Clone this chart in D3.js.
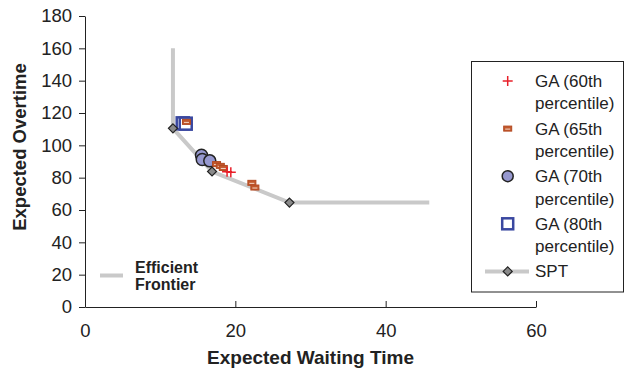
<!DOCTYPE html>
<html>
<head>
<meta charset="utf-8">
<script src="https://cdn.jsdelivr.net/npm/d3@7"></script>
<style>
  body { margin: 0; background: #fff; }
  svg { display: block; font-family: "Liberation Sans", Arial, sans-serif; }
</style>
</head>
<body>
<div id="chart"></div>
<script>
// values
const xTicks = [0, 20, 40, 60];
const yTicks = [0, 20, 40, 60, 80, 100, 120, 140, 160, 180];

// efficient frontier (vertical, then through SPT points, then flat)
const frontierX = [11.7, 11.7, 16.9, 27.2, 45.8];
const frontierY = [160, 110.5, 83.8, 64.6, 64.6];

const sptX = [11.7, 16.9, 27.2];
const sptY = [110.5, 83.8, 64.6];

const ga60X = [18.9, 19.4];
const ga60Y = [83.6, 83.4];

const ga65X = [13.5, 17.5, 18.0, 18.4, 22.2, 22.6];
const ga65Y = [114.5, 88.4, 87.3, 86.0, 76.8, 73.9];

const ga70X = [15.5, 15.6, 16.6];
const ga70Y = [93.9, 91.2, 90.4];

const ga80X = [13.0, 13.4];
const ga80Y = [113.6, 113.4];

const legendItems = [
  { kind: 'plus', lines: ['GA (60th', 'percentile)'] },
  { kind: 'dash', lines: ['GA (65th', 'percentile)'] },
  { kind: 'circle', lines: ['GA (70th', 'percentile)'] },
  { kind: 'square', lines: ['GA (80th', 'percentile)'] },
  { kind: 'spt', lines: ['SPT'] }
];

const W = 625, H = 373;
const svg = d3.select('#chart').append('svg')
  .attr('width', W)
  .attr('height', H);

const x = d3.scaleLinear().domain([0, 60]).range([85, 536]);
const y = d3.scaleLinear().domain([0, 180]).range([307, 16]);

const lineGray = '#c9c9c9';
const axisColor = '#222';

// axes
const xAxis = svg.append('g')
  .attr('transform', `translate(0,${y(0)})`)
  .call(d3.axisBottom(x).tickValues(xTicks).tickSize(-6).tickSizeOuter(0));
xAxis.selectAll('text')
  .attr('font-size', 18.5).attr('fill', axisColor)
  .attr('y', 30).attr('dy', 0);

const yAxis = svg.append('g')
  .attr('transform', `translate(${x(0)},0)`)
  .call(d3.axisLeft(y).tickValues(yTicks).tickSize(6).tickPadding(7).tickSizeOuter(0));
yAxis.selectAll('text').attr('font-size', 18.5).attr('fill', axisColor);

svg.selectAll('.domain, .tick line').attr('stroke', axisColor);
svg.selectAll('text').attr('font-family', '"Liberation Sans", Arial, sans-serif');

// axis titles
svg.append('text')
  .attr('x', (x(0) + x(60)) / 2)
  .attr('y', 364)
  .attr('text-anchor', 'middle')
  .attr('font-size', 19)
  .attr('font-weight', 'bold')
  .attr('fill', axisColor)
  .text('Expected Waiting Time');

svg.append('text')
  .attr('transform', 'translate(26,147) rotate(-90)')
  .attr('text-anchor', 'middle')
  .attr('font-size', 18.5)
  .attr('font-weight', 'bold')
  .attr('fill', axisColor)
  .text('Expected Overtime');

// frontier line
const frontier = d3.zip(frontierX, frontierY);
svg.append('path')
  .datum(frontier)
  .attr('fill', 'none')
  .attr('stroke', lineGray)
  .attr('stroke-width', 4)
  .attr('d', d3.line().x(d => x(d[0])).y(d => y(d[1])));

// marker drawers
const diamondPath = 'M0,-4.5L4.5,0L0,4.5L-4.5,0Z';

function drawPlus(g, cx, cy) {
  g.append('path')
    .attr('d', `M${cx - 5},${cy}H${cx + 5}M${cx},${cy - 5}V${cy + 5}`)
    .attr('stroke', '#e8202a')
    .attr('stroke-width', 1.5)
    .attr('fill', 'none');
}
function drawDash(g, cx, cy) {
  g.append('rect')
    .attr('x', cx - 4).attr('y', cy - 2.5)
    .attr('width', 8).attr('height', 5)
    .attr('fill', '#c2582c')
    .attr('stroke', '#b34a22')
    .attr('stroke-width', 1);
  g.append('line')
    .attr('x1', cx - 2.5).attr('x2', cx + 2.5)
    .attr('y1', cy + 0.5).attr('y2', cy + 0.5)
    .attr('stroke', '#f4d8c8')
    .attr('stroke-width', 1);
}
function drawCircle(g, cx, cy, r) {
  g.append('circle')
    .attr('cx', cx).attr('cy', cy).attr('r', r)
    .attr('fill', '#9698cf')
    .attr('stroke', '#222')
    .attr('stroke-width', 1.5);
}
function drawSquare(g, cx, cy, s) {
  g.append('rect')
    .attr('x', cx - s / 2).attr('y', cy - s / 2)
    .attr('width', s).attr('height', s)
    .attr('fill', '#fff')
    .attr('stroke', '#3a48a0')
    .attr('stroke-width', 2.5);
}
function drawDiamond(g, cx, cy) {
  g.append('path')
    .attr('d', diamondPath)
    .attr('transform', `translate(${cx},${cy})`)
    .attr('fill', '#8a8a8a')
    .attr('stroke', '#222')
    .attr('stroke-width', 1.2);
}

const marks = svg.append('g');
ga80X.forEach((v, i) => drawSquare(marks, x(v), y(ga80Y[i]), 12));
ga70X.forEach((v, i) => drawCircle(marks, x(v), y(ga70Y[i]), 6));
ga65X.forEach((v, i) => drawDash(marks, x(v), y(ga65Y[i])));
ga60X.forEach((v, i) => drawPlus(marks, x(v), y(ga60Y[i])));
sptX.forEach((v, i) => drawDiamond(marks, x(v), y(sptY[i])));

// legend box
const lg = svg.append('g');
lg.append('rect')
  .attr('x', 471.5).attr('y', 61.5)
  .attr('width', 152).attr('height', 230.5)
  .attr('fill', '#fff')
  .attr('stroke', axisColor)
  .attr('stroke-width', 1);

legendItems.forEach((item, i) => {
  const cy = 81 + i * 47.6;
  const mx = 507.7;
  if (item.kind === 'plus') drawPlus(lg, mx, cy);
  if (item.kind === 'dash') drawDash(lg, mx, cy);
  if (item.kind === 'circle') drawCircle(lg, mx, cy, 5.5);
  if (item.kind === 'square') drawSquare(lg, mx, cy, 11);
  if (item.kind === 'spt') {
    lg.append('line')
      .attr('x1', 485).attr('x2', 529)
      .attr('y1', cy).attr('y2', cy)
      .attr('stroke', lineGray).attr('stroke-width', 4);
    drawDiamond(lg, mx, cy);
  }
  item.lines.forEach((t, j) => {
    lg.append('text')
      .attr('x', 535)
      .attr('y', cy + j * 22.5)
      .attr('dy', '0.35em')
      .attr('font-size', 17)
      .attr('fill', axisColor)
      .text(t);
  });
});

// in-plot frontier legend
svg.append('line')
  .attr('x1', 100).attr('x2', 123)
  .attr('y1', 275.5).attr('y2', 275.5)
  .attr('stroke', lineGray).attr('stroke-width', 4);
['Efficient', 'Frontier'].forEach((t, j) => {
  svg.append('text')
    .attr('x', 135)
    .attr('y', 273.3 + j * 16.7)
    .attr('font-size', 16)
    .attr('font-weight', 'bold')
    .attr('fill', axisColor)
    .text(t);
});
</script>
</body>
</html>
